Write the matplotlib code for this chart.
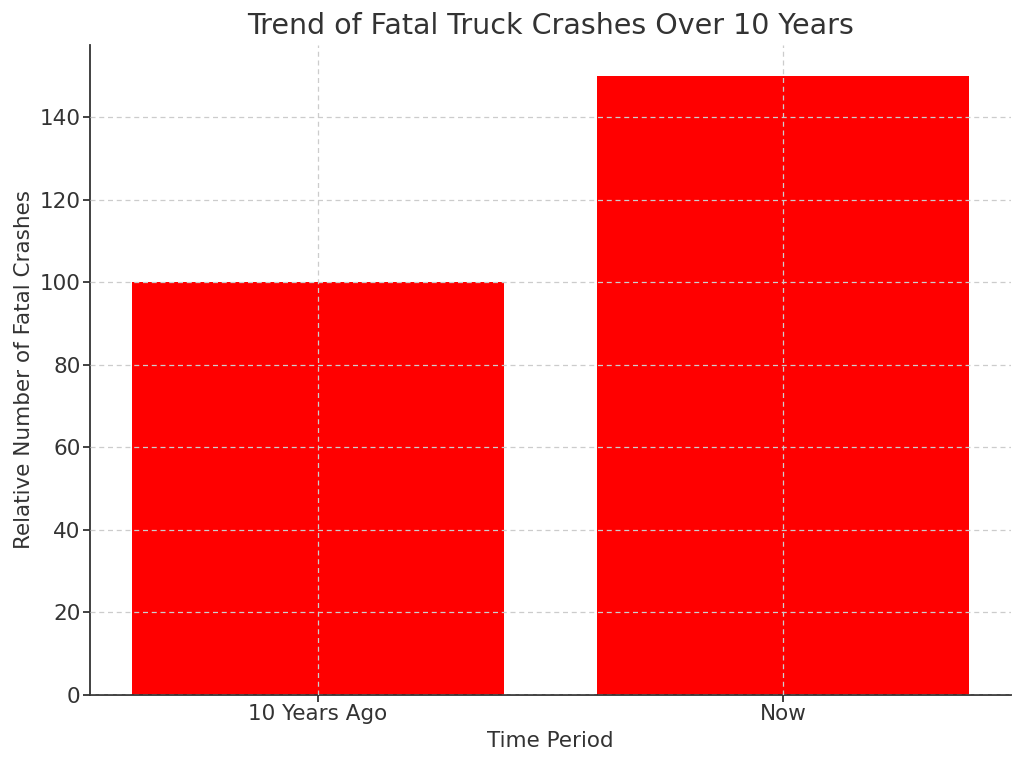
import matplotlib.pyplot as plt

periods = ['10 Years Ago', 'Now']
crashes = [100, 150]

plt.rcParams['text.color'] = '#333333'
plt.rcParams['axes.labelcolor'] = '#333333'
plt.rcParams['xtick.color'] = '#333333'
plt.rcParams['ytick.color'] = '#333333'

fig, ax = plt.subplots(figsize=(10.24, 7.65), dpi=100)
ax.bar(periods, crashes, color='red', width=0.8)

ax.set_title('Trend of Fatal Truck Crashes Over 10 Years', fontsize=20.5, pad=8)
ax.set_xlabel('Time Period', fontsize=15.5, labelpad=5)
ax.set_ylabel('Relative Number of Fatal Crashes', fontsize=15.5, labelpad=4)
ax.tick_params(labelsize=15.5, width=1.3, length=5, pad=2)

ax.set_axisbelow(False)
ax.grid(True, linestyle=(0, (4, 3)), color='#cccccc', linewidth=0.9)
ax.spines['top'].set_visible(False)
ax.spines['right'].set_visible(False)
for s in ('left', 'bottom'):
    ax.spines[s].set_linewidth(1.3)
    ax.spines[s].set_color('#333333')

fig.subplots_adjust(left=0.088, right=0.987, top=0.941, bottom=0.092)
fig.savefig('out.png')
